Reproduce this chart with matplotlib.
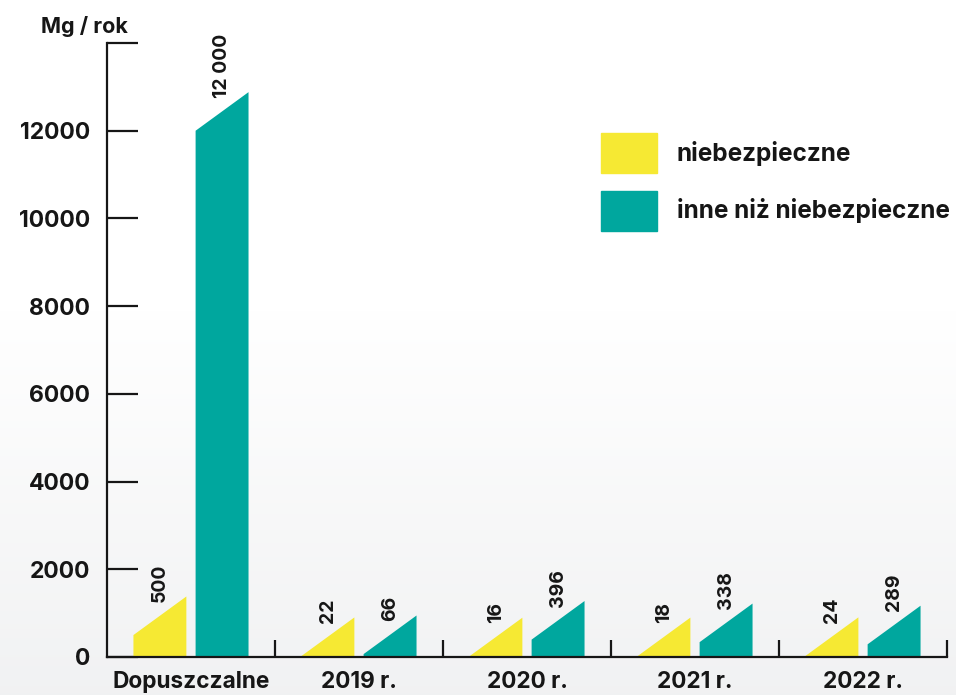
import matplotlib.pyplot as plt
import numpy as np
from matplotlib.ticker import FixedLocator, FuncFormatter

plt.rcParams['font.family'] = ['Inter', 'DejaVu Sans']
plt.rcParams['font.weight'] = 'bold'

# dane: odpady w Mg / rok
kategorie = ['Dopuszczalne', '2019 r.', '2020 r.', '2021 r.', '2022 r.']
niebezpieczne = [500, 22, 16, 18, 24]
inne = [12000, 66, 396, 338, 289]
serie = ['niebezpieczne', 'inne niż niebezpieczne']

zolty = '#f6e933'
turkus = '#00a79e'
czarny = '#161616'

fig = plt.figure(figsize=(9.56, 6.95), dpi=100)

# delikatny gradient tła
bg = fig.add_axes([0, 0, 1, 1], zorder=-1)
grad = np.linspace(0, 1, 256)[:, None]
grad = np.clip((grad - 0.45) / 0.55, 0, 1)
c_top = np.array([1.0, 1.0, 1.0])
c_bot = np.array([0.945, 0.948, 0.952])
img = c_top + (c_bot - c_top) * grad[..., None]
bg.imshow(np.repeat(img, 2, axis=1), aspect='auto', extent=[0, 1, 0, 1])
bg.axis('off')

ax = fig.add_axes([0.1119, 0.0547, 0.8787, 0.8834])
ax.patch.set_alpha(0)

szer = 0.315
skos = 880  # wznoszenie sie skosnego wierzcholka slupka


def slupek(xc, v, kolor):
    x0, x1 = xc - szer / 2, xc + szer / 2
    ax.fill([x0, x0, x1, x1], [0, v, v + skos, 0], color=kolor, lw=0, zorder=2)


def etykieta(v):
    return f'{v:,}'.replace(',', ' ')


for i in range(len(kategorie)):
    for dx, v, kolor in [(-0.185, niebezpieczne[i], zolty), (0.185, inne[i], turkus)]:
        slupek(i + dx, v, kolor)
        ax.text(i + dx, v + 750, etykieta(v), rotation=90, ha='center', va='bottom',
                fontsize=14, fontweight='bold', color=czarny)

ax.set_xlim(-0.5, 4.5)
ax.set_ylim(0, 14000)

for s in ['top', 'right']:
    ax.spines[s].set_visible(False)
for s in ['left', 'bottom']:
    ax.spines[s].set_linewidth(1.6)
    ax.spines[s].set_color(czarny)

ax.yaxis.set_major_locator(FixedLocator(np.arange(0, 14001, 2000)))
ax.yaxis.set_major_formatter(FuncFormatter(lambda v, p: '' if v > 13000 else f'{int(v)}'))
ax.tick_params(axis='y', direction='in', length=22, width=1.6, color=czarny,
               pad=12, labelsize=16.5, labelcolor=czarny)

ax.set_xticks(range(len(kategorie)))
ax.set_xticklabels(kategorie, fontsize=16.3, fontweight='bold', color=czarny)
ax.set_xticks(np.arange(0.5, 5, 1), minor=True)
ax.tick_params(axis='x', which='major', length=0, pad=10)
ax.tick_params(axis='x', which='minor', direction='in', length=12, width=1.6, color=czarny)

ax.text(-0.375, 14230, 'Mg / rok', ha='right', va='baseline',
        fontsize=15.5, fontweight='bold', color=czarny, clip_on=False)

# legenda
for j, (nazwa, kolor) in enumerate(zip(serie, [zolty, turkus])):
    y_leg = 0.751 - j * 0.083
    fig.patches.append(plt.Rectangle((0.6287, y_leg), 0.0586, 0.0576, color=kolor,
                                     transform=fig.transFigure, figure=fig))
    fig.text(0.708, y_leg + 0.0288, nazwa, ha='left', va='center', fontsize=17.5,
             fontweight='bold', color=czarny)

fig.savefig('out.png', dpi=100)
